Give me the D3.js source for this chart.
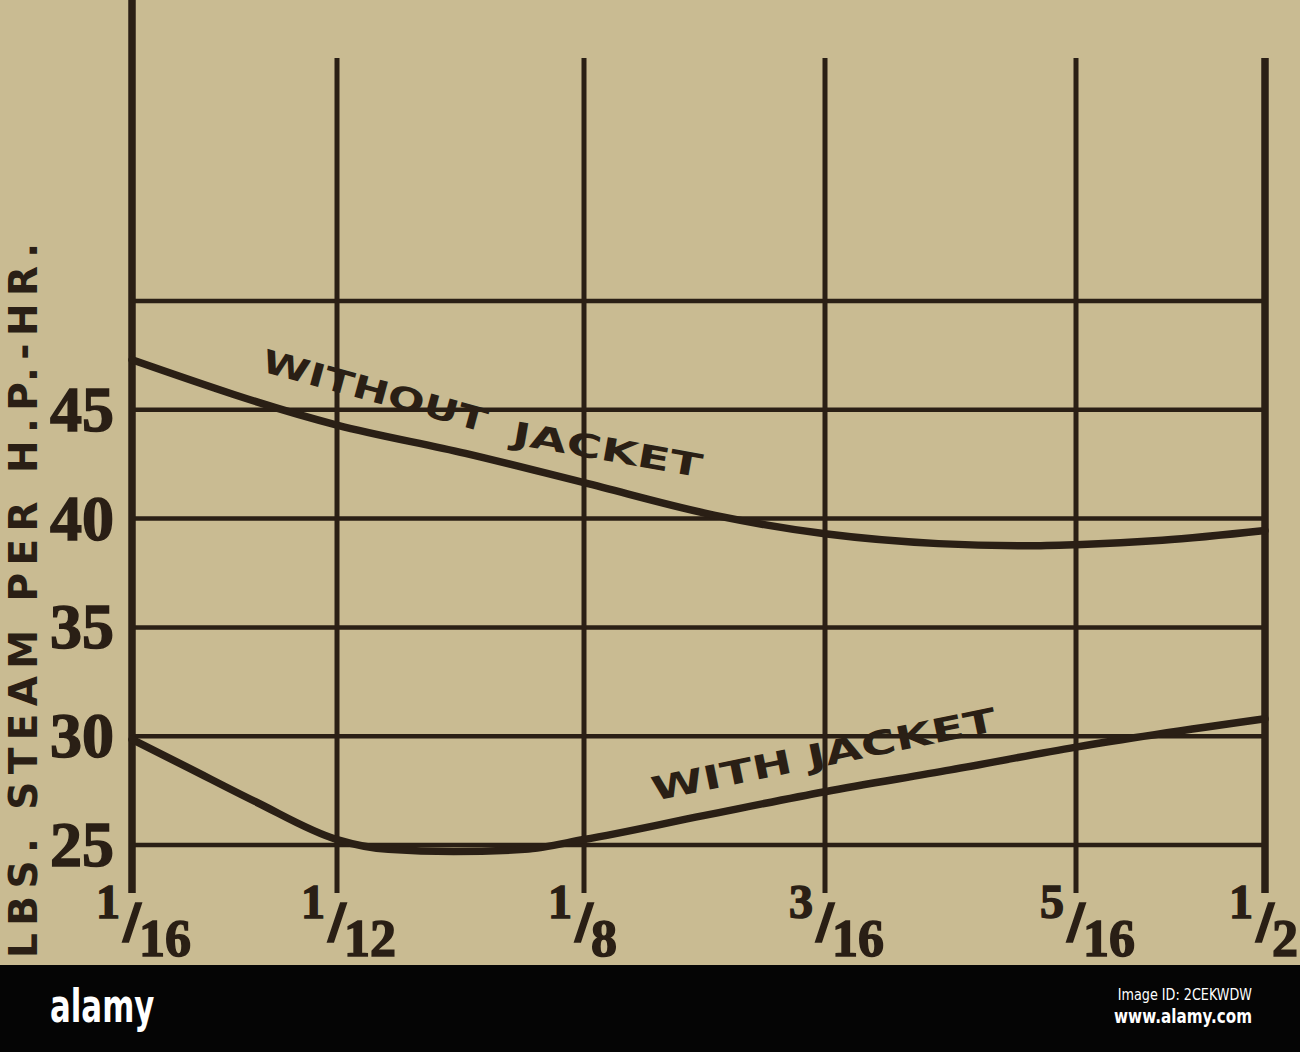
<!DOCTYPE html>
<html><head><meta charset="utf-8">
<script src="https://cdn.jsdelivr.net/npm/d3@7"></script>
<style>html,body{margin:0;padding:0;background:#c9bb92;} svg{display:block}</style>
</head><body><svg id="c" width="1300" height="1052"></svg>
<script>
// ---------------- data ----------------
const cutoffValues = [1/16, 1/12, 1/8, 3/16, 5/16, 1/2];
const cutoffLabels = ["1/16", "1/12", "1/8", "3/16", "5/16", "1/2"];
const gridValues = [25, 30, 35, 40, 45, 50];
const steamTickLabels = ["25", "30", "35", "40", "45"];
const withoutJacketX = [1/16, 1/12, 0.105, 1/8, 0.159, 3/16, 0.244, 0.288, 5/16, 0.398, 1/2];
const withoutJacketY = [47.3, 44.3, 43.0, 41.65, 40.15, 39.3, 38.85, 38.75, 38.8, 39.0, 39.45];
const withJacketX = [1/16, 0.068, 0.075, 1/12, 0.092, 0.103, 0.115, 1/8, 0.156, 3/16, 0.25, 5/16, 1/2];
const withJacketY = [29.85, 28.6, 27.0, 25.25, 24.8, 24.7, 24.8, 25.25, 26.35, 27.45, 28.45, 29.5, 30.8];
const seriesNames = ["WITHOUT JACKET", "WITH JACKET"];
const yAxisTitle = "LBS. STEAM PER H.P.-HR.";
const creditTexts = ["alamy", "Image ID: 2CEKWDW", "www.alamy.com"];

// ---------------- layout ----------------
const INK = "#2a1f15";
const PAPER = "#c9bb92";
const xStops = [132, 337, 584, 825, 1076, 1265]; // drawn positions of the cut-off rules
const svg = d3.select("#c");
svg.append("rect").attr("width", 1300).attr("height", 1052).attr("fill", PAPER);

const x = d3.scaleLinear().domain(cutoffValues).range(xStops);
const y = d3.scaleLinear().domain([25, 50]).range([845, 301]);

const g = svg.append("g");

// horizontal rules
g.selectAll("line.h").data(gridValues).join("line")
  .attr("x1", x(cutoffValues[0])).attr("x2", x(cutoffValues[cutoffValues.length - 1]))
  .attr("y1", d => y(d)).attr("y2", d => y(d))
  .attr("stroke", INK).attr("stroke-width", 4.5);

// vertical rules
g.selectAll("line.v").data(cutoffValues).join("line")
  .attr("x1", d => x(d)).attr("x2", d => x(d))
  .attr("y1", (d, i) => i === 0 ? 0 : 58)
  .attr("y2", 893)
  .attr("stroke", INK)
  .attr("stroke-width", (d, i) => (i === 0 || i === cutoffValues.length - 1) ? 7.5 : 5);

// curves
const line = d3.line().x(d => x(d[0])).y(d => y(d[1])).curve(d3.curveMonotoneX);
const seriesData = [
  d3.zip(withoutJacketX, withoutJacketY),
  d3.zip(withJacketX, withJacketY)
];
g.selectAll("path.s").data(seriesData).join("path")
  .attr("d", line).attr("fill", "none")
  .attr("stroke", INK).attr("stroke-width", 7.5).attr("stroke-linecap", "round");

// series labels
const lblFont = "'DejaVu Sans', sans-serif";
const [wo1, wo2] = seriesNames[0].split(" ");
g.append("text").attr("transform", "translate(260,371) rotate(15.3)")
  .attr("font-family", lblFont).attr("font-weight", "bold").attr("font-size", 32)
  .attr("fill", INK).attr("textLength", 232).attr("lengthAdjust", "spacingAndGlyphs").text(wo1);
g.append("text").attr("transform", "translate(511,444) rotate(10)")
  .attr("font-family", lblFont).attr("font-weight", "bold").attr("font-size", 32)
  .attr("fill", INK).attr("textLength", 192).attr("lengthAdjust", "spacingAndGlyphs").text(wo2);
g.append("text").attr("transform", "translate(654,801) rotate(-11.6)")
  .attr("font-family", lblFont).attr("font-weight", "bold").attr("font-size", 33)
  .attr("fill", INK).attr("textLength", 351).attr("lengthAdjust", "spacingAndGlyphs").text(seriesNames[1]);

// y tick labels
const numFont = "'Liberation Serif', 'Times New Roman', serif";
g.selectAll("text.yt").data(steamTickLabels).join("text")
  .attr("x", 114).attr("y", d => y(+d) + 21)
  .attr("text-anchor", "end")
  .attr("font-family", numFont).attr("font-weight", "bold").attr("font-size", 64)
  .attr("fill", INK).attr("stroke", INK).attr("stroke-width", 1.5).text(d => d);

// x tick labels (fractions)
const xt = g.selectAll("g.xt").data(cutoffValues).join("g")
  .attr("transform", d => `translate(${x(d)},0)`);
xt.append("text").attr("x", -12).attr("y", 918).attr("text-anchor", "end")
  .attr("font-family", numFont).attr("font-weight", "bold").attr("font-size", 48)
  .attr("fill", INK).attr("stroke", INK).attr("stroke-width", 1.5)
  .text((d, i) => cutoffLabels[i].split("/")[0]);
xt.append("text").attr("x", 0).attr("y", 940).attr("text-anchor", "middle")
  .attr("font-family", numFont).attr("font-weight", "bold").attr("font-size", 54)
  .attr("fill", INK).attr("stroke", INK).attr("stroke-width", 3.5).text("/");
xt.append("text").attr("x", 7).attr("y", 956).attr("text-anchor", "start")
  .attr("font-family", numFont).attr("font-weight", "bold").attr("font-size", 52)
  .attr("fill", INK).attr("stroke", INK).attr("stroke-width", 1.5)
  .text((d, i) => cutoffLabels[i].split("/")[1]);

// y axis title
g.append("text").attr("transform", "translate(37,0) rotate(-90)")
  .attr("x", -958).attr("y", 0)
  .attr("font-family", lblFont).attr("font-weight", "bold").attr("font-size", 39)
  .attr("fill", INK).attr("textLength", 715).attr("lengthAdjust", "spacing")
  .text(yAxisTitle);

// credit band
const band = svg.append("g");
band.append("rect").attr("x", 0).attr("y", 965).attr("width", 1300).attr("height", 87).attr("fill", "#050505");
band.append("text").attr("transform", "translate(50,1022) scale(0.67,1)")
  .attr("font-family", lblFont).attr("font-weight", "bold").attr("font-size", 46)
  .attr("fill", "#ffffff").text(creditTexts[0]);
band.append("text").attr("transform", "translate(1252,1000) scale(0.8,1)")
  .attr("text-anchor", "end").attr("font-family", lblFont).attr("font-size", 16)
  .attr("fill", "#ffffff").text(creditTexts[1]);
band.append("text").attr("transform", "translate(1252,1023) scale(0.8,1)")
  .attr("text-anchor", "end").attr("font-family", lblFont).attr("font-weight", "bold").attr("font-size", 19)
  .attr("fill", "#ffffff").text(creditTexts[2]);
</script></body></html>
